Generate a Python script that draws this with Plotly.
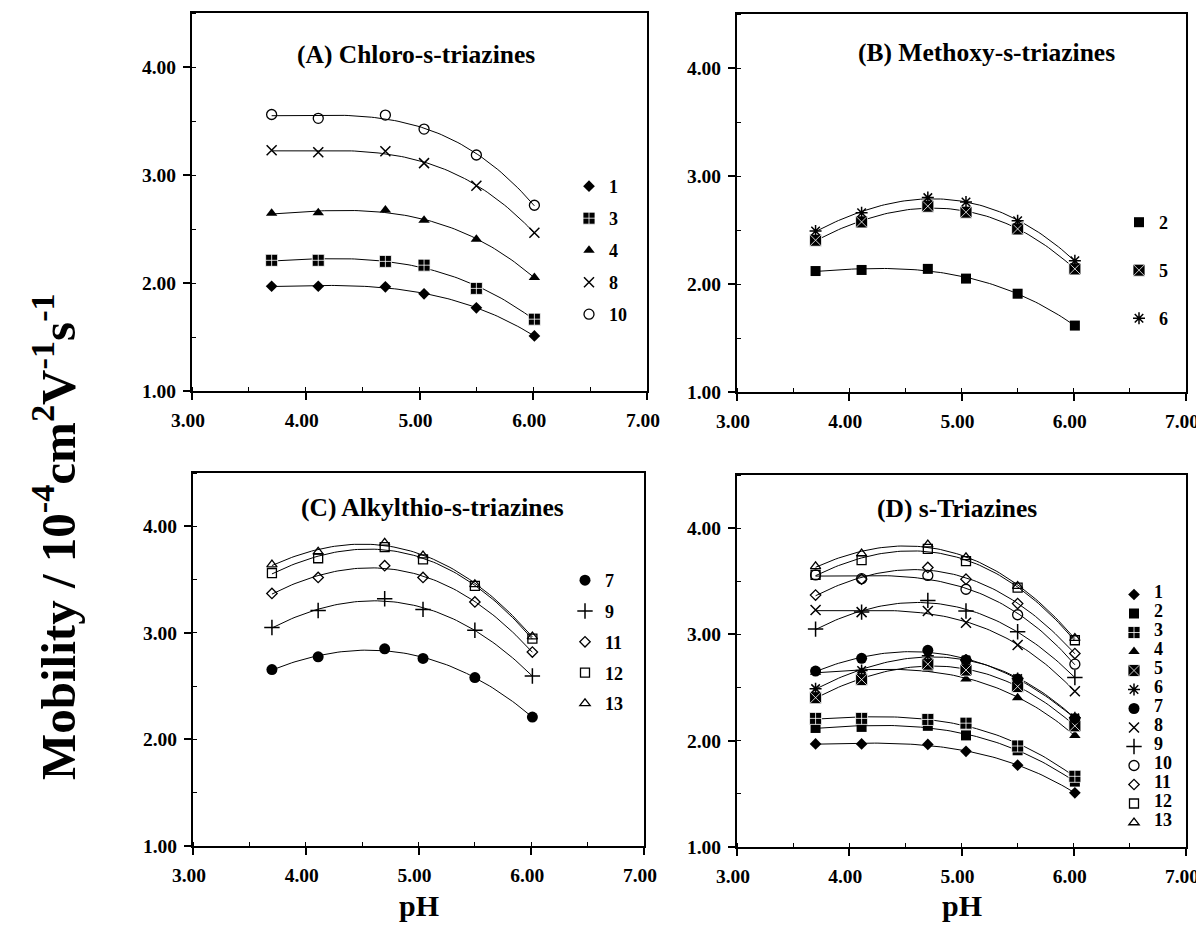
import numpy as np
import plotly.graph_objects as go

SERIF = "Liberation Serif"
OFF = 8  # default page margin of the html body (figure is drawn 8px from the corner)
W, H = 1204 - OFF, 928 - OFF


def fx(px):
    return (px - OFF) / W


def fy(py):
    return 1 - (py - OFF) / H


# ---------------- data ----------------
ph = [3.70, 4.11, 4.70, 5.04, 5.50, 6.01]

mob_1 = [1.97, 1.97, 1.965, 1.90, 1.77, 1.51]
mob_2 = [2.12, 2.13, 2.14, 2.05, 1.91, 1.615]
mob_3 = [2.21, 2.21, 2.20, 2.165, 1.95, 1.665]
mob_4 = [2.645, 2.65, 2.675, 2.58, 2.405, 2.05]
mob_5 = [2.405, 2.575, 2.72, 2.665, 2.51, 2.14]
mob_6 = [2.49, 2.66, 2.80, 2.76, 2.585, 2.215]
mob_7 = [2.655, 2.775, 2.85, 2.76, 2.58, 2.21]
mob_8 = [3.23, 3.21, 3.22, 3.11, 2.90, 2.465]
mob_9 = [3.05, 3.21, 3.32, 3.22, 3.025, 2.595]
mob_10 = [3.56, 3.525, 3.555, 3.425, 3.185, 2.72]
mob_11 = [3.37, 3.52, 3.63, 3.52, 3.29, 2.82]
mob_12 = [3.56, 3.70, 3.805, 3.69, 3.44, 2.945]
mob_13 = [3.64, 3.76, 3.845, 3.725, 3.455, 2.965]

compounds = ["1", "2", "3", "4", "5", "6", "7", "8", "9", "10", "11", "12", "13"]
series = dict(zip(compounds, [mob_1, mob_2, mob_3, mob_4, mob_5, mob_6, mob_7,
                              mob_8, mob_9, mob_10, mob_11, mob_12, mob_13]))

panel_A = ["1", "3", "4", "8", "10"]
panel_B = ["2", "5", "6"]
panel_C = ["7", "9", "11", "12", "13"]
panel_D = compounds

panel_titles = ["(A) Chloro-s-triazines", "(B) Methoxy-s-triazines",
                "(C) Alkylthio-s-triazines", "(D) s-Triazines"]

# ---------------- styles ----------------
marker_style = {
    "1": dict(symbol="diamond", size=9, color="black", line=dict(width=0)),
    "2": dict(symbol="square", size=10, color="black", line=dict(width=0)),
    "3": dict(symbol="square-cross", size=12, color="black", line=dict(width=0.8, color="white")),
    "4": dict(symbol="triangle-up", size=10, color="black", line=dict(width=0)),
    "5": dict(symbol="square-x", size=12, color="black", line=dict(width=0.8, color="white")),
    "6": dict(symbol="asterisk-open", size=10, color="black", line=dict(width=1.5, color="black")),
    "7": dict(symbol="circle", size=11, color="black", line=dict(width=0)),
    "8": dict(symbol="x-thin-open", size=10, color="black", line=dict(width=1.5, color="black")),
    "9": dict(symbol="cross-thin-open", size=11, color="black", line=dict(width=1.5, color="black")),
    "10": dict(symbol="circle-open", size=10, color="black", line=dict(width=1.3, color="black")),
    "11": dict(symbol="diamond-open", size=8, color="black", line=dict(width=1.3, color="black")),
    "12": dict(symbol="square-open", size=9, color="black", line=dict(width=1.3, color="black")),
    "13": dict(symbol="triangle-up-open", size=9, color="black", line=dict(width=1.3, color="black")),
}

# panel geometry in page pixels: (left, right, top, bottom)
boxes = [(192, 647, 13, 391), (737, 1186, 14, 392),
         (193, 644, 473, 846), (737, 1186, 475, 847)]
legend_pos = [(569, 168), (1119, 204), (565, 562), (1114, 580)]
legend_gap = [5.6, 21.6, 4.4, 0]
legend_font = [18, 18, 18, 10]
title_pos = [(416, 54), (986, 53), (432, 507), (957, 508)]

members = [panel_A, panel_B, panel_C, panel_D]

fig = go.Figure()
ph_arr = np.array(ph)
ph_fine = np.linspace(ph[0], ph[-1], 80)

for p, names in enumerate(members):
    sfx = "" if p == 0 else str(p + 1)
    leg = "legend" if p == 0 else "legend" + str(p + 1)
    # fitted trend curves
    for n in names:
        coef = np.polyfit(ph_arr, np.array(series[n]), 3)
        fig.add_trace(go.Scatter(
            x=ph_fine, y=np.polyval(coef, ph_fine), mode="lines",
            line=dict(color="black", width=1), showlegend=False,
            hoverinfo="skip", xaxis="x" + sfx, yaxis="y" + sfx))
    for n in names:
        label = n if p < 3 else '<span style="font-size:18px">%s</span>' % n
        fig.add_trace(go.Scatter(
            x=ph, y=series[n], mode="markers", name=label,
            marker=marker_style[n], legend=leg, legendgroup="p%d_%s" % (p, n),
            xaxis="x" + sfx, yaxis="y" + sfx))

layout = dict(
    width=W, height=H, paper_bgcolor="white", plot_bgcolor="white",
    margin=dict(l=0, r=0, t=0, b=0, autoexpand=False), showlegend=True,
    font=dict(family=SERIF, color="black"),
)

axis_common = dict(
    showline=True, mirror=True, linecolor="black", linewidth=2, automargin=False,
    showgrid=False, zeroline=False, ticks="outside", ticklen=7, tickwidth=1.5,
    tickcolor="black", tickformat=".2f",
    tickfont=dict(family=SERIF, size=19.5, color="black", weight="bold"),
    minor=dict(ticks="inside", ticklen=4, tickwidth=1, tickcolor="black", dtick=0.5),
)

annotations = []
for p, (l, r, t, b) in enumerate(boxes):
    sfx = "" if p == 0 else str(p + 1)
    xa = dict(axis_common, domain=[fx(l), fx(r)], range=[3, 7], dtick=1, tick0=3,
              anchor="y" + sfx, ticklabelstandoff=4, ticklabelshift=-4)
    ya = dict(axis_common, domain=[fy(b), fy(t)], range=[1, 4.5], dtick=1, tick0=1,
              anchor="x" + sfx, ticklabelstandoff=3)
    layout["xaxis" + sfx] = xa
    layout["yaxis" + sfx] = ya
    lx, ly = legend_pos[p]
    layout["legend" if p == 0 else "legend" + str(p + 1)] = dict(
        x=fx(lx), y=fy(ly), xanchor="left", yanchor="top", itemwidth=30,
        bgcolor="rgba(0,0,0,0)", tracegroupgap=legend_gap[p],
        font=dict(family=SERIF, size=legend_font[p], color="black", weight="bold"),
    )
    tx, ty = title_pos[p]
    annotations.append(dict(
        text=panel_titles[p], x=fx(tx), y=fy(ty), xref="paper", yref="paper",
        showarrow=False, xanchor="center", yanchor="middle",
        font=dict(family=SERIF, size=25.5, color="black", weight="bold")))

# x-axis titles (bottom row)
for cx in (419, 962):
    annotations.append(dict(
        text="pH", x=fx(cx), y=fy(905), xref="paper", yref="paper",
        showarrow=False, xanchor="center", yanchor="middle",
        font=dict(family=SERIF, size=30, color="black", weight="bold")))

# shared y-axis title
annotations.append(dict(
    text="Mobility / 10<sup>-4</sup>cm<sup>2</sup>V<sup>-1</sup>s<sup>-1</sup>",
    x=fx(54), y=fy(537), xref="paper", yref="paper", textangle=-90,
    showarrow=False, xanchor="center", yanchor="middle",
    font=dict(family=SERIF, size=49, color="black", weight="bold")))

layout["annotations"] = annotations
fig.update_layout(**layout)
fig.write_html("out.html")
